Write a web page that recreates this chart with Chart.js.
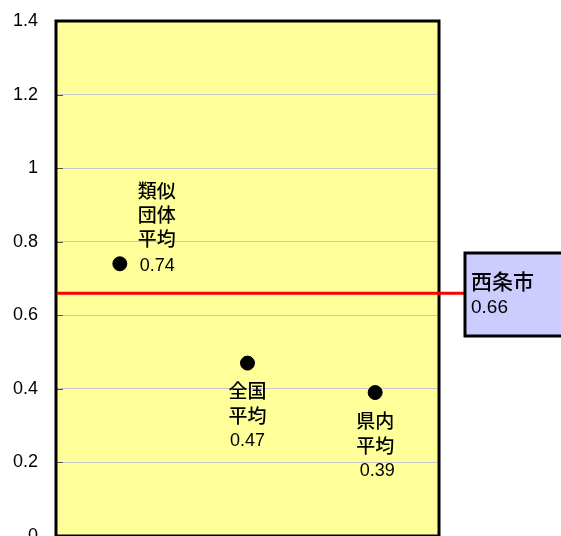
<!DOCTYPE html>
<html>
<head>
<meta charset="utf-8">
<script src="https://cdn.jsdelivr.net/npm/chart.js@4"></script>
<style>
    html, body { margin: 0; padding: 0; background: #ffffff; overflow: hidden; }
    canvas { display: block; }
</style>
</head>
<body>
<canvas id="chart" width="561" height="560"></canvas>
<script>
    // データ
    var categories = ['類似団体平均', '全国平均', '県内平均'];
    var averages = [0.74, 0.47, 0.39];
    var labelLines = [['類似', '団体', '平均'], ['全国', '平均'], ['県内', '平均']];
    var cityName = '西条市';
    var cityValue = 0.66;
    var yTicks = [0, 0.2, 0.4, 0.6, 0.8, 1, 1.2, 1.4];

    var JP_FONT = '"Noto Sans CJK JP", "Noto Sans", sans-serif';
    var NUM_FONT = '"Liberation Sans", Arial, sans-serif';

    // プロット背景
    var plotBackground = {
        id: 'plotBackground',
        beforeDraw: function(chart) {
            var a = chart.chartArea, ctx = chart.ctx;
            ctx.save();
            ctx.fillStyle = '#ffff99';
            ctx.fillRect(a.left, a.top, a.right - a.left, a.bottom - a.top);
            ctx.restore();
        }
    };

    // 枠線・内側の目盛り・基準線・ラベル
    var overlay = {
        id: 'overlay',
        afterDatasetsDraw: function(chart) {
            var a = chart.chartArea, ctx = chart.ctx;
            var y = chart.scales.y;
            var meta = chart.getDatasetMeta(0);
            ctx.save();

            // 内側の目盛り
            ctx.strokeStyle = '#555555';
            ctx.lineWidth = 1;
            yTicks.forEach(function(v) {
                var py = Math.round(y.getPixelForValue(v)) + 0.5;
                ctx.beginPath();
                ctx.moveTo(a.left, py);
                ctx.lineTo(a.left + 7, py);
                ctx.stroke();
            });

            // 枠
            ctx.strokeStyle = '#000000';
            ctx.lineWidth = 3;
            ctx.strokeRect(a.left, a.top, a.right - a.left, a.bottom - a.top);

            // 西条市の線
            var cy = y.getPixelForValue(cityValue);
            var boxLeft = 465;
            ctx.strokeStyle = '#ff0000';
            ctx.lineWidth = 3;
            ctx.beginPath();
            ctx.moveTo(a.left + 1, cy);
            ctx.lineTo(boxLeft, cy);
            ctx.stroke();

            // 西条市の箱
            ctx.fillStyle = '#ccccff';
            ctx.fillRect(boxLeft, 253, 110, 83);
            ctx.strokeStyle = '#000000';
            ctx.lineWidth = 3;
            ctx.strokeRect(boxLeft, 253, 110, 83);
            ctx.fillStyle = '#000000';
            ctx.textAlign = 'left';
            ctx.textBaseline = 'middle';
            ctx.font = '500 21px ' + JP_FONT;
            ctx.fillText(cityName, 471, 281);
            ctx.font = '19px ' + NUM_FONT;
            ctx.fillText(cityValue.toFixed(2), 471, 308);

            // 点のラベル
            meta.data.forEach(function(pt, i) {
                var lines = labelLines[i];
                var val = averages[i].toFixed(2);
                if (i === 0) {
                    // 右上
                    ctx.textAlign = 'left';
                    ctx.font = '500 19px ' + JP_FONT;
                    lines.forEach(function(t, k) {
                        ctx.fillText(t, pt.x + 18, pt.y - 73 + k * 24);
                    });
                    ctx.font = '18px ' + NUM_FONT;
                    ctx.fillText(val, pt.x + 20, pt.y + 2);
                } else {
                    ctx.textAlign = 'center';
                    ctx.font = '500 19px ' + JP_FONT;
                    lines.forEach(function(t, k) {
                        ctx.fillText(t, pt.x, pt.y + 28 + k * 25);
                    });
                    ctx.font = '18px ' + NUM_FONT;
                    ctx.fillText(val, pt.x + (i === 2 ? 2 : 0), pt.y + 28 + lines.length * 25);
                }
            });
            ctx.restore();
        }
    };

    new Chart(document.getElementById('chart'), {
        type: 'line',
        data: {
            labels: categories,
            datasets: [{
                data: averages,
                showLine: false,
                pointRadius: 7,
                pointHoverRadius: 7,
                pointBackgroundColor: '#000000',
                pointBorderColor: '#000000',
                borderColor: '#000000'
            }]
        },
        options: {
            responsive: false,
            animation: false,
            events: [],
            layout: { padding: { left: 0, right: 122, top: 21, bottom: 24 } },
            plugins: {
                legend: { display: false },
                tooltip: { enabled: false }
            },
            scales: {
                x: {
                    type: 'category',
                    offset: true,
                    display: false
                },
                y: {
                    min: 0,
                    max: 1.4,
                    afterBuildTicks: function(scale) {
                        scale.ticks = yTicks.map(function(v) { return { value: v }; });
                    },
                    afterFit: function(scale) {
                        scale.width = 56;
                    },
                    grid: {
                        color: '#c8c8c8',
                        lineWidth: 1,
                        drawTicks: true,
                        tickLength: 17,
                        tickColor: 'rgba(0,0,0,0)'
                    },
                    border: { display: false },
                    ticks: {
                        padding: 1,
                        color: '#000000',
                        font: { family: '"Liberation Sans", Arial, sans-serif', size: 18 },
                        callback: function(v) { return String(v); }
                    }
                }
            }
        },
        plugins: [plotBackground, overlay]
    });
</script>
</body>
</html>
